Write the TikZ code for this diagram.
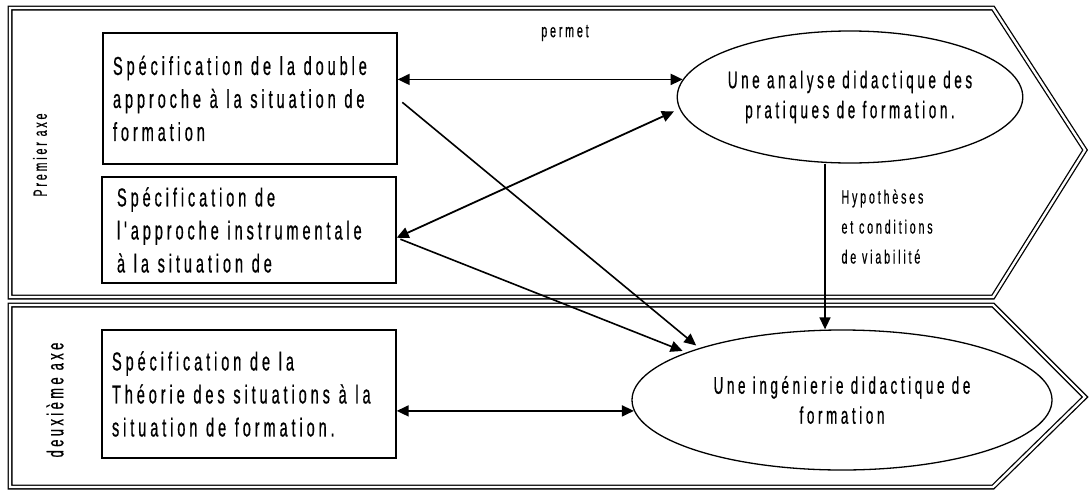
\documentclass[tikz,border=0pt]{standalone}
\usepackage{fontspec}
\usepackage{tikz}
\usetikzlibrary{shapes.geometric, arrows.meta, positioning, calc}
\newfontfamily\narrowsans{Liberation Sans}[FakeStretch=0.56, LetterSpace=15, FakeBold=0.6]

\begin{document}
\begin{tikzpicture}[x=1pt, y=-1pt,
  frame/.style={draw, double, line width=1.3pt, double distance=2.4pt, line join=miter},
  box/.style={draw, line width=1.4pt, minimum width=294pt, minimum height=131pt, inner xsep=10pt,
    text width=274pt, align=left, font=\narrowsans\fontsize{26}{33}\selectfont},
  oval/.style={draw, ellipse, line width=1.3pt, inner sep=0pt, align=center,
    font=\narrowsans\fontsize{24}{30}\selectfont},
  arrow/.style={-{Triangle[length=12pt, width=11pt]}, line width=1.6pt},
  dblarrow/.style={{Triangle[length=12pt, width=11pt]}-{Triangle[length=12pt, width=11pt]}, line width=1.8pt},
  axe/.style={rotate=90, font=\narrowsans\fontsize{19}{20}\selectfont},
  lbl/.style={align=left, font=\narrowsans\fontsize{19}{30}\selectfont},
]
  \useasboundingbox (0,0) rectangle (1091,490);

  % the two axes
  \draw[frame] (10,8) -- (993,8) -- (1085,150) -- (993,297) -- (10,297) -- cycle;
  \draw[frame] (10,305) -- (993,305) -- (1085,397) -- (993,487) -- (10,487) -- cycle;
  \node[axe] (axe1) at (40,155) {Premier axe};
  \node[axe, font=\narrowsans\fontsize{23}{24}\selectfont] (axe2) at (55,400) {deuxième axe};

  % boxes
  \node[box] (double) at (250,98.5) {Spécification de la double\\approche à la situation de\\formation};
  \node[box, minimum height=106pt, inner xsep=14pt, text width=264pt] (instr) at (249,230) {Spécification de\\l'approche instrumentale\\à la situation de};
  \node[box, minimum height=128pt] (theorie) at (249,394) {Spécification de la\\Théorie des situations à la\\situation de formation.};

  % ellipses
  \node[oval, minimum width=344pt, minimum height=132pt] (analyse) at (850,97) {Une analyse didactique des\\pratiques de formation.};
  \node[oval, minimum width=420pt, minimum height=140pt] (inge) at (842,400) {Une ingénierie didactique de\\formation};

  \node[lbl] (permet) at (565,33) {permet};
  \node[lbl, anchor=north west] (hypo) at (838,186) {Hypothèses\\et conditions\\de viabilité};

  % connectors
  \coordinate (vx) at (825,0);
  \draw[dblarrow] (double.east |- analyse.174) -- (analyse.174);
  \draw[dblarrow, shorten >=6pt] (instr.-3) -- (analyse.184);
  \draw[arrow, shorten <=6pt, shorten >=4pt] (double.east) -- (inge.160);
  \draw[arrow, shorten <=4pt, shorten >=4pt] (instr.-3) -- (inge.163);
  \draw[dblarrow] (theorie.east |- inge.183) -- (inge.183);
  \draw[arrow] (analyse.south -| vx) -- (inge.north -| vx);
\end{tikzpicture}
\end{document}
